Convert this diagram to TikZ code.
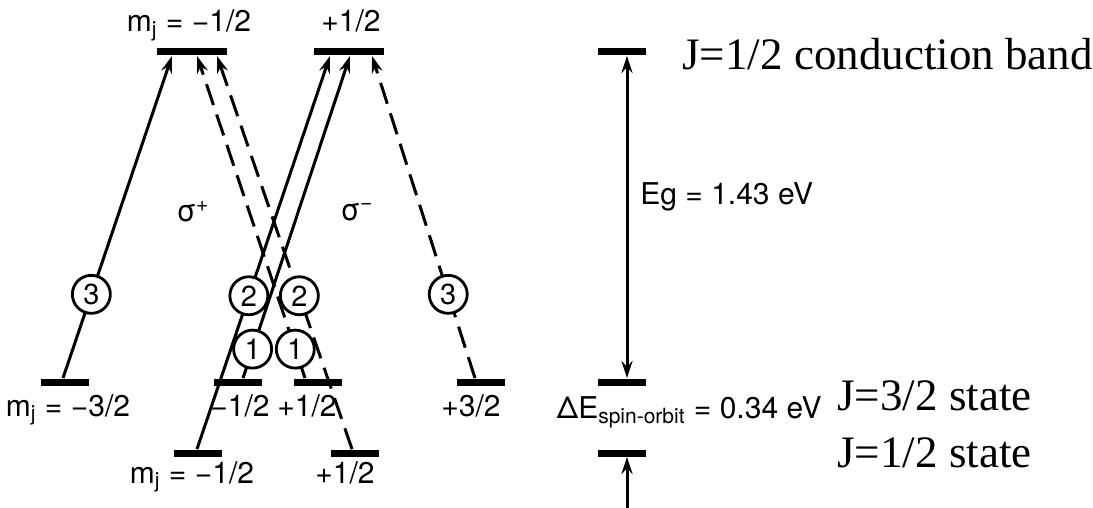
\documentclass[tikz,border=0pt]{standalone}
\usepackage{fontspec}
\setmainfont{Liberation Serif}
\newfontfamily\helv{TeX Gyre Heros}
\usetikzlibrary{arrows.meta}
\tikzset{
    level diagram/.style = {x=0.5pt, y=-0.5pt,
                            >={Stealth[length=8.5pt, width=5.5pt]}},
    line/.style          = {line width=1.5pt},
    sigmaplus/.style     = {line, ->},
    sigmaminus/.style    = {line, ->, dash pattern=on 11pt off 5pt},
    bandlevel/.style     = {fill, inner sep=0pt, minimum height=3.5pt,
                            minimum width=24pt},
    cblevel/.style       = {bandlevel, minimum width=35pt},
    weight/.style        = {draw, solid, line width=1.4pt, circle, fill=white,
                            inner sep=0pt, minimum size=19pt,
                            font=\helv\fontsize{14.5}{16}\selectfont},
    sig/.style           = {font=\helv\fontsize{15}{17}\selectfont,
                            inner sep=0pt},
    statelbl/.style      = {font=\fontsize{22.5}{26}\selectfont,
                            inner sep=0pt}
}
\def\cbrow{52}
\def\hhrow{382}
\def\sorow{453}

\begin{document}
\begin{tikzpicture}[level diagram]
\useasboundingbox (0,0) rectangle (1093,508);

% Conduction band and valence band sublevels.
\node[cblevel] (cbm) at (192,\cbrow) {};
\node[cblevel] (cbp) at (349,\cbrow) {};
\node[bandlevel] (hhm) at (65,\hhrow) {};
\node[bandlevel] (lhm) at (238,\hhrow) {};
\node[bandlevel] (lhp) at (318,\hhrow) {};
\node[bandlevel] (hhp) at (481,\hhrow) {};
\node[bandlevel] (som) at (198,\sorow) {};
\node[bandlevel] (sop) at (355,\sorow) {};

\node[sig, anchor=base] (lcbm) at (189,32) {m\textsubscript{j} = −1/2};
\node[sig, anchor=base] (lcbp) at (351,32) {+1/2};
\node[sig, anchor=base] (lhhm) at (68,416) {m\textsubscript{j} = −3/2};
\node[sig, anchor=base] (llhm) at (240,416) {−1/2};
\node[sig, anchor=base] (llhp) at (307,416) {+1/2};
\node[sig, anchor=base] (lhhp) at (471,416) {+3/2};
\node[sig, anchor=base] (lsom) at (192,483) {m\textsubscript{j} = −1/2};
\node[sig, anchor=base] (lsop) at (345,483) {+1/2};

% Optical transitions with their relative strengths.
\draw[sigmaplus] ([xshift=-1pt]hhm.north)
    -- node[weight, pos=0.26] (wpa) {3} ([xshift=-10pt]cbm.south);
\draw[sigmaplus] ([xshift=-0.5pt]som.north)
    -- node[weight, pos=0.39] (wpb) {2} ([xshift=-9.5pt]cbp.south);
\draw[sigmaplus] ([xshift=2.5pt]lhm.north)
    -- node[weight, pos=0.09] (wpc) {1} ([xshift=0.5pt]cbp.south);
\draw[sigmaminus] ([xshift=-6.5pt]lhp.north)
    -- node[weight, pos=0.09] (wmc) {1} ([xshift=2.5pt]cbm.south);
\draw[sigmaminus] ([xshift=-1.5pt]sop.north)
    -- node[weight, pos=0.39] (wmb) {2} ([xshift=12.5pt]cbm.south);
\draw[sigmaminus] ([xshift=-3pt]hhp.north)
    -- node[weight, pos=0.26] (wma) {3} ([xshift=11.5pt]cbp.south);

\node[sig] (splus) at (193,212) {σ\textsuperscript{+}};
\node[sig] (sminus) at (357,212) {σ\textsuperscript{−}};

% Energy scale on the right.
\node[bandlevel] (egtop) at (622,\cbrow) {};
\node[bandlevel] (egmid) at (622,\hhrow) {};
\node[bandlevel] (egbot) at (622,\sorow) {};
\coordinate (sobelow) at (627,508);
\draw[line, <->] ([xshift=2.5pt]egtop.south) -- ([xshift=2.5pt]egmid.north);
\draw[line, ->] (sobelow) -- ([xshift=2.5pt]egbot.south);
\node[sig, anchor=base west] (eg) at (640,205) {Eg = 1.43 eV};
\node[sig, anchor=base east] (deso) at (822,418)
    {ΔE\textsubscript{spin-orbit} = 0.34 eV};

\node[statelbl, anchor=base west] (jcb) at (682,70) {J=1/2 conduction band};
\node[statelbl, anchor=base west] (jhh) at (837,410) {J=3/2 state};
\node[statelbl, anchor=base west] (jso) at (837,467) {J=1/2 state};

\end{tikzpicture}
\end{document}
